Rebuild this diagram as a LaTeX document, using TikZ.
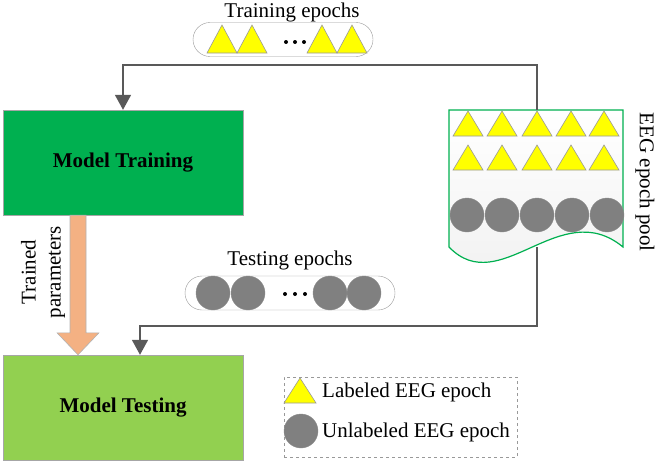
\documentclass[tikz,border=0pt]{standalone}
\usepackage{fontspec}
\setmainfont{Liberation Serif}
\usetikzlibrary{calc,arrows.meta,positioning}
\definecolor{train-green}{RGB}{0, 176, 80}
\definecolor{test-green}{RGB}{146, 208, 80}
\definecolor{param-orange}{RGB}{244, 177, 131}
\definecolor{epoch-yellow}{RGB}{255, 255, 0}
\definecolor{epoch-gray}{RGB}{128, 128, 128}
\definecolor{line-gray}{RGB}{89, 89, 89}
\tikzset{
	modelbox/.style={draw=gray!70, minimum width=240, minimum height=105, inner sep=0, font=\fontsize{21}{24}\selectfont\bfseries},
	pill/.style={draw=gray!80, rounded corners=17, minimum height=34, inner sep=0},
	flow/.style={line-gray, line width=1.6pt, -{Triangle[width=16pt,length=15pt]}},
	tri/.style={draw=gray!80, fill=epoch-yellow, line width=0.6pt},
	dot/.style={fill=epoch-gray, draw=gray!90, line width=0.4pt},
	label/.style={font=\fontsize{21}{24}\selectfont, inner sep=0}
}
% one labeled epoch: apex x, apex y, half width, height
\newcommand{\epochtri}[4]{
	\draw [tri] (#1-#3,#2+#4) -- (#1,#2) -- (#1+#3,#2+#4) -- cycle;
}
% one unlabeled epoch
\newcommand{\epochdot}[3]{
	\draw [dot] (#1,#2) circle (#3);
}

\begin{document}
\begin{tikzpicture}[x=1pt, y=-1pt]
\useasboundingbox (0,0) rectangle (656,463);

% models
\node [modelbox, fill=train-green] (train) at (123,162.5) {Model Training};
\node [modelbox, fill=test-green] (test) at (123,407.5) {Model Testing};

% EEG epoch pool
\draw [train-green, line width=1.2pt, top color=white, bottom color=gray!12]
	(449,110) -- (623,110) -- (623,247) .. controls (560,195) and (500,300) .. (449,247) -- cycle;
\coordinate (pooltop) at (537,110);
\coordinate (poolbot) at (537,247);
\foreach \x in {468,502,537,571,604}{
	\epochtri{\x}{111}{15}{25}
	\epochtri{\x}{145}{15}{25}
}
\foreach \x in {467,502,537,572,607}{
	\epochdot{\x}{215}{17}
}
\node [label, rotate=-90] (poollabel) at (645,182) {EEG epoch pool};

% training epochs
\node [label] (trainlabel) at (292,12) {Training epochs};
\node [pill, minimum width=180] (trainpill) at (283,39.5) {};
\foreach \x in {222,252,322,352}{
	\epochtri{\x}{25}{15}{28}
}
\foreach \x in {286,295,304}{
	\fill (\x,42) circle (2);
}

% testing epochs
\node [label] (testlabel) at (290,260) {Testing epochs};
\node [pill, minimum width=210] (testpill) at (290,293) {};
\foreach \x in {213,248,330,364}{
	\epochdot{\x}{293}{17}
}
\foreach \x in {285,295,305}{
	\fill (\x,294) circle (2);
}

% flows
\draw [flow] (pooltop) |- (123,65) -- (train.north);
\draw [flow] (poolbot) |- (140,326) -- (test.north -| 140,0);

% trained parameters
\draw [draw=gray!60, fill=param-orange, line width=0.6pt] let \p1=(train.south), \p2=(test.north) in
	(\x1-53,\y1) -- (\x1-37,\y1) -- (\x1-37,\y2+22) -- (\x1-24,\y2+22) -- (\x1-45,\y2)
	-- (\x1-66,\y2+22) -- (\x1-53,\y2+22) -- cycle;
\node [label, rotate=90, align=center, font=\fontsize{21}{25}\selectfont] (params) at (43,272) {Trained\\parameters};

% legend
\node [draw=gray!80, dashed, minimum width=233, minimum height=80, inner sep=0] (legend) at (400.5,417) {};
\epochtri{300}{378}{16}{25}
\epochdot{301}{431}{17}
\node [label, anchor=west] (labeled) at (322,392) {Labeled EEG epoch};
\node [label, anchor=west] (unlabeled) at (322,432) {Unlabeled EEG epoch};
\end{tikzpicture}
\end{document}
